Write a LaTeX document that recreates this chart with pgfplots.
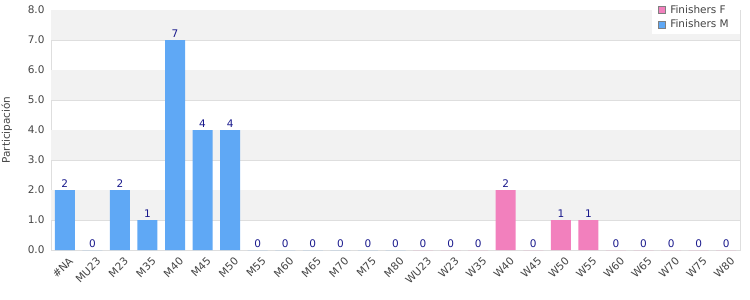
\documentclass[border=0pt]{standalone}
\usepackage{pgfplots}
\pgfplotsset{compat=1.18}
\usepackage{fontspec}
\setmainfont{DejaVu Sans}
\definecolor{barM}{RGB}{95,168,245}
\definecolor{barF}{RGB}{242,128,189}
\definecolor{lbl}{RGB}{25,25,140}
\definecolor{band}{RGB}{242,242,242}
\definecolor{gridc}{RGB}{222,222,222}
\definecolor{tickc}{RGB}{68,68,68}
\begin{document}
\begin{tikzpicture}
\path[use as bounding box] (0,0) rectangle (750pt,300pt);
\begin{axis}[
  at={(51pt,50pt)}, anchor=south west,
  scale only axis, width=689pt, height=240pt,
  ymin=0, ymax=8, ytick={0,1,...,8},
  xmin=-0.5, xmax=24.5,
  xtick={0,...,24},
  xticklabels={\#NA,MU23,M23,M35,M40,M45,M50,M55,M60,M65,M70,M75,M80,WU23,W23,W35,W40,W45,W50,W55,W60,W65,W70,W75,W80},
  xticklabel style={rotate=45, anchor=north east, font=\fontsize{10.5}{12}\selectfont, text=tickc, inner sep=1pt, xshift=-1pt, yshift=-6pt},
  yticklabel style={font=\fontsize{10.5}{12}\selectfont, text=tickc, xshift=-3pt},
  yticklabel={\pgfmathprintnumber[fixed,fixed zerofill,precision=1]{\tick}},
  /pgf/number format/assume math mode=true,
  major tick length=0pt,
  ymajorgrids, grid style={gridc, line width=0.8pt},
  axis line style={draw=gridc, line width=0.8pt},
  ylabel={Participación},
  ylabel style={at={(axis description cs:0,0.5)}, anchor=north, rotate=0, yshift=53pt, font=\fontsize{10.5}{12}\selectfont, text=tickc},
  ybar, bar width=20pt, bar shift=0pt,
  nodes near coords,
  every node near coord/.append style={font=\fontsize{10.5}{12}\selectfont, text=lbl, yshift=-1pt},
  legend style={at={(axis description cs:1,1)}, yshift=10pt, anchor=north east, draw=none, fill=white, font=\fontsize{10.5}{13}\selectfont, text=tickc, row sep=1pt, inner xsep=6pt, inner ysep=3pt, nodes={inner xsep=5pt}},
  legend cell align=left,
  reverse legend,
  legend image code/.code={\draw[#1, draw=gray, line width=0.6pt] (0pt,-3.5pt) rectangle (7pt,3.5pt);},
]
\fill[band] (axis cs:-0.5,7) rectangle (axis cs:24.5,8);
\fill[band] (axis cs:-0.5,5) rectangle (axis cs:24.5,6);
\fill[band] (axis cs:-0.5,3) rectangle (axis cs:24.5,4);
\fill[band] (axis cs:-0.5,1) rectangle (axis cs:24.5,2);
\addplot[fill=barM, draw=none] coordinates {(0,2) (1,0) (2,2) (3,1) (4,7) (5,4) (6,4) (7,0) (8,0) (9,0) (10,0) (11,0) (12,0)};
\addlegendentry{Finishers M}
\addplot[fill=barF, draw=none] coordinates {(13,0) (14,0) (15,0) (16,2) (17,0) (18,1) (19,1) (20,0) (21,0) (22,0) (23,0) (24,0)};
\addlegendentry{Finishers F}
\end{axis}
\end{tikzpicture}
\end{document}
